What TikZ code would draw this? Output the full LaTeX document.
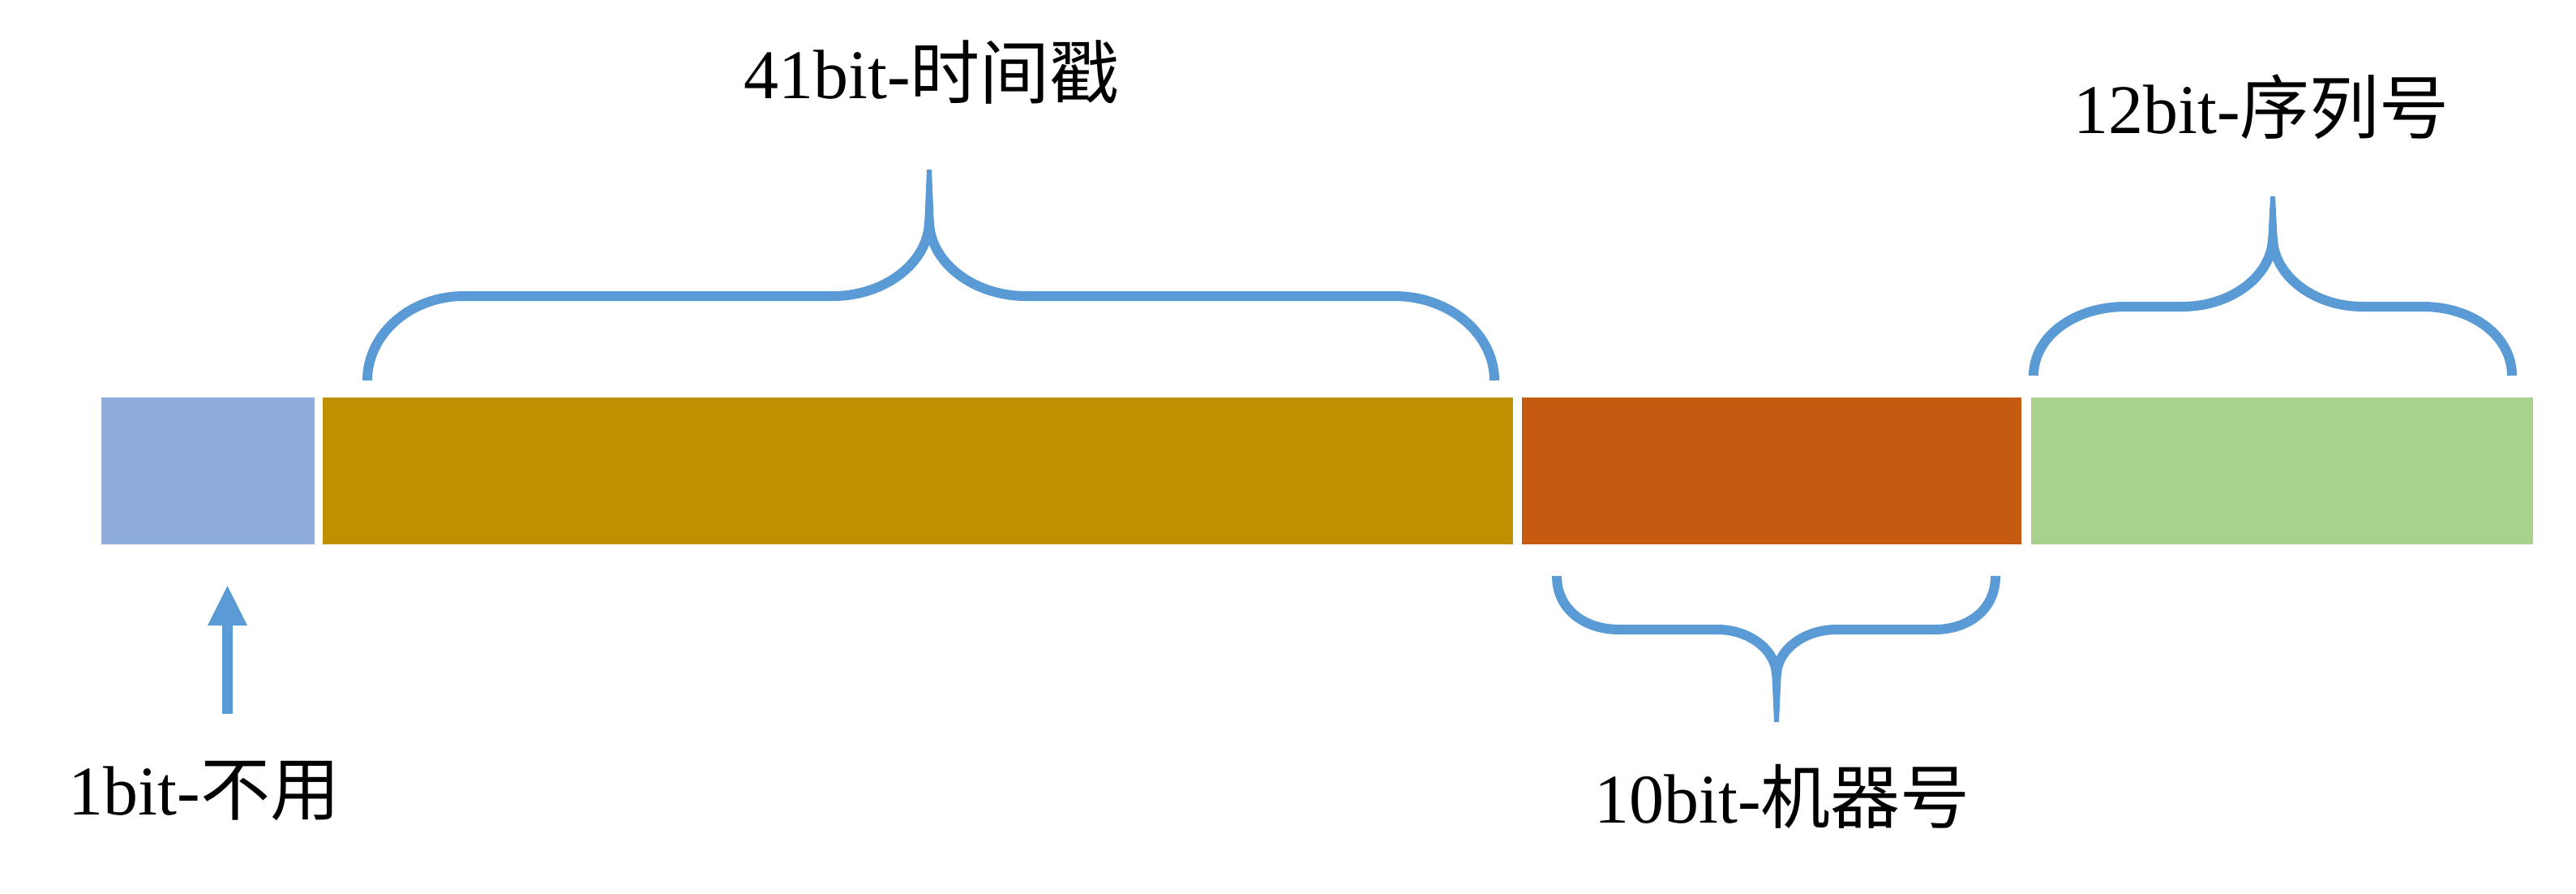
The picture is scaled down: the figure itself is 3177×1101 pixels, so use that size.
\documentclass[tikz,border=0pt]{standalone}
\usepackage{fontspec}
\setmainfont{Liberation Serif}
\newfontfamily\cjk{Noto Sans CJK SC}
\usetikzlibrary{arrows.meta}
\definecolor{cblue}{HTML}{8FACDE}
\definecolor{cgold}{HTML}{BF9000}
\definecolor{corange}{HTML}{C55A11}
\definecolor{cgreen}{HTML}{A9D18E}
\definecolor{cline}{HTML}{5B9BD5}
\tikzset{
  bar/.style={draw=none, inner sep=0pt, outer sep=0pt, minimum height=181pt, anchor=north west},
  lbl/.style={inner sep=0pt, outer sep=0pt, anchor=base, font=\fontsize{86}{100}\selectfont},
  brace/.style={draw=cline, line width=12pt},
  stem/.style={fill=cline, draw=none},
}
\begin{document}
\begin{tikzpicture}[x=1pt, y=-1pt]
\useasboundingbox (0,0) rectangle (3177,1101);
% bars
\node[bar, fill=cblue, minimum width=263pt] (b1) at (125,490) {};
\node[bar, fill=cgold, minimum width=1468pt] (b2) at (398,490) {};
\node[bar, fill=corange, minimum width=616pt] (b3) at (1877,490) {};
\node[bar, fill=cgreen, minimum width=619pt] (b4) at (2505,490) {};
% labels
\node[lbl] (t41) at (1149,121) {41bit-{\cjk 时间戳}};
\node[lbl] (t12) at (2789,164) {12bit-{\cjk 序列号}};
\node[lbl] (t10) at (2198,1014) {10bit-{\cjk 机器号}};
\node[lbl] (t1) at (252,1004) {1bit-{\cjk 不用}};
% brace over 41bit
\draw[brace] (453,469) .. controls (453,412) and (506,365) .. (572,365) -- (1027,365)
  .. controls (1093,365) and (1146,322) .. (1146,272);
\draw[brace] (1146,272) .. controls (1146,322) and (1199,365) .. (1266,365) -- (1720,365)
  .. controls (1788,365) and (1843,412) .. (1843,469);
\fill[stem] (1140,280) -- (1143,209) -- (1149,209) -- (1152,280) -- cycle;
% brace under 10bit
\draw[brace] (1920,710) .. controls (1920,752) and (1955,776) .. (1997,776) -- (2118,776)
  .. controls (2158,776) and (2191,802) .. (2191,833);
\draw[brace] (2191,833) .. controls (2191,802) and (2224,776) .. (2265,776) -- (2386,776)
  .. controls (2427,776) and (2461,752) .. (2461,710);
\fill[stem] (2185,825) -- (2188,890) -- (2194,890) -- (2197,825) -- cycle;
% brace over 12bit
\draw[brace] (2508,463) .. controls (2508,415) and (2558,378) .. (2621,378) -- (2691,378)
  .. controls (2753,378) and (2803,339) .. (2803,292);
\draw[brace] (2803,292) .. controls (2803,339) and (2853,378) .. (2914,378) -- (2988,378)
  .. controls (3050,378) and (3098,415) .. (3098,463);
\fill[stem] (2797,300) -- (2800,242) -- (2806,242) -- (2809,300) -- cycle;
% arrow
\coordinate (arrS) at (280.5,880);
\coordinate (arrE) at (280.5,722);
\draw[draw=cline, line width=13pt, -{Triangle[width=49pt,length=49pt,line width=0pt,fill=cline]}] (arrS) -- (arrE);
\end{tikzpicture}
\end{document}
